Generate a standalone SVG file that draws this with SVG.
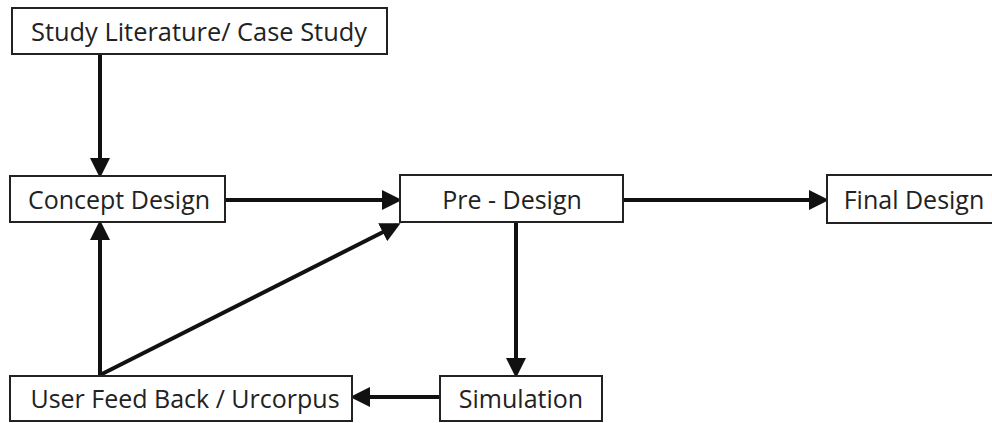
<svg xmlns="http://www.w3.org/2000/svg" width="992" height="423" viewBox="0 0 992 423">
<style>
.box{fill:#fff;stroke:#222;stroke-width:2}
.lbl{font-family:"Open Sans","Noto Sans",sans-serif;font-size:25px;fill:#222;text-anchor:middle;dominant-baseline:central}
.con{stroke:#111;stroke-width:4;fill:none}
</style>
<defs>
<marker id="ah" markerWidth="5" markerHeight="5" refX="4" refY="2.5" orient="auto" markerUnits="strokeWidth">
<path d="M0,0 L5,2.5 L0,5 z" fill="#111"/>
</marker>
</defs>
<rect width="992" height="423" fill="#fff"/>
<g id="connectors">
<line class="con" x1="100" y1="54" x2="100" y2="174" marker-end="url(#ah)"/>
<line class="con" x1="225" y1="200" x2="398" y2="200" marker-end="url(#ah)"/>
<line class="con" x1="623" y1="200" x2="825" y2="200" marker-end="url(#ah)"/>
<line class="con" x1="516" y1="222" x2="516" y2="374" marker-end="url(#ah)"/>
<line class="con" x1="440" y1="397" x2="354" y2="397" marker-end="url(#ah)"/>
<line class="con" x1="100" y1="376" x2="100" y2="224" marker-end="url(#ah)"/>
<line class="con" x1="100" y1="375" x2="397" y2="225" marker-end="url(#ah)"/>
</g>
<g id="study"><rect class="box" x="12" y="8" width="375" height="46"/><text class="lbl" x="199" y="31" textLength="336" lengthAdjust="spacingAndGlyphs">Study Literature/ Case Study</text></g>
<g id="concept"><rect class="box" x="10" y="176" width="215" height="46"/><text class="lbl" x="119" y="199">Concept Design</text></g>
<g id="predesign"><rect class="box" x="400" y="175" width="223" height="47"/><text class="lbl" x="512" y="199">Pre - Design</text></g>
<g id="final"><rect class="box" x="827" y="175" width="170" height="48"/><text class="lbl" x="914" y="199">Final Design</text></g>
<g id="user"><rect class="box" x="10" y="376" width="342" height="45"/><text class="lbl" x="185" y="398">User Feed Back / Urcorpus</text></g>
<g id="simulation"><rect class="box" x="440" y="376" width="162" height="45"/><text class="lbl" x="521" y="398">Simulation</text></g>
</svg>
